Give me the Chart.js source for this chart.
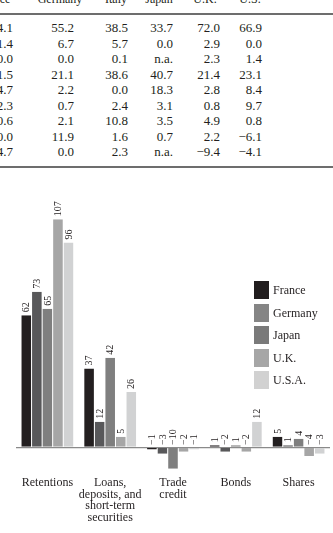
<!DOCTYPE html>
<html>
<head>
<meta charset="utf-8">
<script src="https://cdn.jsdelivr.net/npm/chart.js@4.4.1/dist/chart.umd.min.js"></script>
<style>
	body { margin: 0; background: #fff; width: 333px; height: 533px; overflow: hidden; position: relative; font-family: "Liberation Serif", "DejaVu Serif", serif; color: #231f20; }
	.cell { position: absolute; font-size: 13px; line-height: 15.5px; white-space: nowrap; }
	.head { position: absolute; font-size: 12px; line-height: 15px; white-space: nowrap; }
	.rule { position: absolute; left: 0; width: 333px; height: 1.5px; background: #6d6d6d; }
	#box { position: absolute; left: 0; top: 180px; width: 333px; height: 353px; }
	.lg { position: absolute; font-size: 12px; line-height: 18px; white-space: nowrap; }
	.sw { position: absolute; width: 15px; height: 18px; }
</style>
</head>
<body>
<div id="table"></div>
<div id="box"><canvas id="myChart"></canvas></div>
<div id="legend"></div>
<script>
// table above the chart (cut off at the top and left)
const tableHeads = ['France', 'Germany', 'Italy', 'Japan', 'U.K.', 'U.S.'];
const tableRows = [
	['4.1', '55.2', '38.5', '33.7', '72.0', '66.9'],
	['1.4', '6.7', '5.7', '0.0', '2.9', '0.0'],
	['0.0', '0.0', '0.1', 'n.a.', '2.3', '1.4'],
	['1.5', '21.1', '38.6', '40.7', '21.4', '23.1'],
	['4.7', '2.2', '0.0', '18.3', '2.8', '8.4'],
	['2.3', '0.7', '2.4', '3.1', '0.8', '9.7'],
	['0.6', '2.1', '10.8', '3.5', '4.9', '0.8'],
	['0.0', '11.9', '1.6', '0.7', '2.2', '\u22126.1'],
	['4.7', '0.0', '2.3', 'n.a.', '\u22129.4', '\u22124.1']
];

// chart data
const categories = [['Retentions'], ['Loans,', 'deposits, and', 'short-term', 'securities'], ['Trade', 'credit'], ['Bonds'], ['Shares']];
const countries = ['France', 'Germany', 'Japan', 'U.K.', 'U.S.A.'];
const france = [62, 37, -1, 1, 5];
const germany = [73, 12, -3, -2, 1];
const japan = [65, 42, -10, 1, 4];
const uk = [107, 5, -2, -2, -4];
const usa = [96, 26, -1, 12, -3];

const barColors = ['#231f20', '#58585a', '#7f7f7f', '#a6a6a6', '#d1d2d3'];
const legendColors = ['#211d1e', '#858585', '#7a7a7a', '#a6a6a6', '#d1d1d1'];

// draw table
const colRight = [13, 74, 128, 173, 220, 262];
const headCenter = [-6, 60, 116, 159, 205, 250];
const tbl = document.getElementById('table');
tableHeads.forEach((h, i) => {
	const d = document.createElement('div');
	d.className = 'head';
	d.textContent = h;
	d.style.left = (headCenter[i] - 40) + 'px';
	d.style.width = '80px';
	d.style.textAlign = 'center';
	d.style.top = '-8px';
	tbl.appendChild(d);
});
tableRows.forEach((row, r) => {
	row.forEach((v, i) => {
		const d = document.createElement('div');
		d.className = 'cell';
		d.textContent = v;
		d.style.left = (colRight[i] - 60) + 'px';
		d.style.width = '60px';
		d.style.textAlign = 'right';
		d.style.top = (20.25 + r * 15.5) + 'px';
		tbl.appendChild(d);
	});
});
[13, 166].forEach(y => {
	const d = document.createElement('div');
	d.className = 'rule';
	d.style.top = y + 'px';
	tbl.appendChild(d);
});

// legend
const lg = document.getElementById('legend');
countries.forEach((c, i) => {
	const top = 281 + i * 22.5;
	const s = document.createElement('div');
	s.className = 'sw';
	s.style.left = '254px';
	s.style.top = top + 'px';
	s.style.background = legendColors[i];
	lg.appendChild(s);
	const t = document.createElement('div');
	t.className = 'lg';
	t.textContent = c;
	t.style.left = '273px';
	t.style.top = top + 'px';
	lg.appendChild(t);
});

const valueLabels = {
	id: 'valueLabels',
	afterDatasetsDraw(chart) {
		const c = chart.ctx;
		c.save();
		c.font = '10px "Liberation Serif", serif';
		c.fillStyle = '#231f20';
		c.textAlign = 'left';
		c.textBaseline = 'middle';
		chart.data.datasets.forEach((ds, di) => {
			chart.getDatasetMeta(di).data.forEach((bar, i) => {
				const v = ds.data[i];
				const txt = v < 0 ? '\u2212' + Math.abs(v) : String(v);
				const top = Math.min(bar.y, bar.base) - 3;
				c.save();
				c.translate(bar.x + 0.5, top);
				c.rotate(-Math.PI / 2);
				c.fillText(txt, 0, 0);
				c.restore();
			});
		});
		c.restore();
	}
};

const series = [france, germany, japan, uk, usa];
const ctx = document.getElementById('myChart');
const plot = new Chart(ctx, {
	type: 'bar',
	data: {
		labels: categories,
		datasets: series.map((d, i) => ({
			label: countries[i],
			data: d,
			backgroundColor: barColors[i],
			borderColor: 'rgba(255,255,255,0.6)',
			borderWidth: { left: 0.5, right: 0.5, top: 0, bottom: 0 },
			categoryPercentage: 0.84,
			barPercentage: 1.0
		}))
	},
	options: {
		responsive: true,
		maintainAspectRatio: false,
		animation: false,
		layout: { padding: { left: 16, right: 3, top: 11.4, bottom: 0 } },
		plugins: {
			legend: { display: false },
			tooltip: { enabled: false }
		},
		scales: {
			x: {
				grid: { display: false, drawTicks: false },
				border: { display: false },
				afterFit: s => { s.height = 60; },
				ticks: {
					color: '#231f20',
					padding: 4,
					maxRotation: 0,
					autoSkip: false,
					font: { family: '"Liberation Serif", serif', size: 12, lineHeight: 0.97 }
				}
			},
			y: {
				min: -12,
				max: 120,
				afterFit: s => { s.width = 0; },
				border: { display: false },
				grid: {
					drawTicks: false,
					lineWidth: 1.2,
					color: c => c.tick && c.tick.value === 0 ? '#8a8a8a' : 'rgba(0,0,0,0)'
				},
				ticks: { display: false, stepSize: 10 }
			}
		}
	},
	plugins: [valueLabels]
});
</script>
</body>
</html>
